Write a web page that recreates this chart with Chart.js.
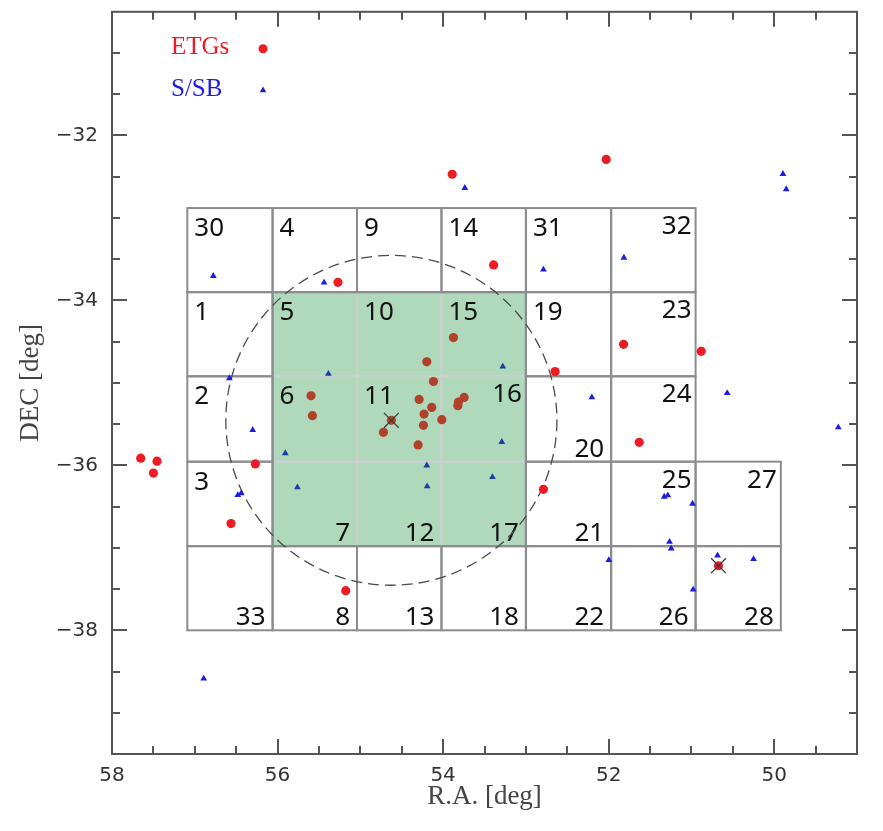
<!DOCTYPE html>
<html>
<head>
<meta charset="utf-8">
<script src="https://cdn.jsdelivr.net/npm/chart.js@4.4.1/dist/chart.umd.min.js"></script>
<style>
html,body{margin:0;padding:0;background:#fff;}
#wrap{width:883px;height:831px;position:relative;}
</style>
</head>
<body>
<div id="wrap"><canvas id="c"></canvas></div>
<script>
// ---------------- data ----------------
// Early-type galaxies (R.A., DEC in deg)
const etgRA  = [53.89, 52.03, 55.27, 53.39, 53.875, 54.197, 54.117, 55.595, 55.579, 54.29,
                54.137, 54.23, 54.016, 54.625, 54.238, 54.721, 54.302, 53.746, 53.815, 53.822,
                56.268, 56.562, 57.653, 57.456, 57.50, 55.176, 52.647, 51.82, 50.882, 51.631,
                52.788, 50.673];
const etgDEC = [-32.47, -32.29, -33.78, -33.57, -34.45, -34.745, -34.983, -35.156, -35.397, -35.20,
                -35.297, -35.378, -35.446, -35.454, -35.514, -35.599, -35.752, -35.176, -35.233, -35.277,
                -35.982, -36.706, -35.913, -35.949, -36.094, -37.519, -34.862, -34.532, -34.617, -35.72,
                -36.291, -37.217];
// Spirals / starbursts
const ssbRA  = [49.895, 49.855, 53.738, 56.776, 55.438, 52.788, 51.816, 55.386, 53.279, 56.582,
                56.30, 55.906, 53.291, 54.197, 54.193, 53.404, 55.76, 56.48, 56.44, 52.203,
                50.568, 51.329, 51.285, 50.987, 51.265, 51.245, 51.998, 50.979, 50.685, 50.25,
                56.892, 49.226];
const ssbDEC = [-32.467, -32.652, -32.636, -33.703, -33.784, -33.627, -33.482, -34.89, -34.802, -34.943,
                -35.571, -35.853, -35.716, -36.001, -36.255, -36.143, -36.267, -36.36, -36.34, -35.176,
                -35.124, -36.38, -36.363, -36.465, -36.928, -37.008, -37.149, -37.507, -37.093, -37.137,
                -38.586, -35.539];
// marked centres (crosses)
const centreRA  = [54.625, 50.673];
const centreDEC = [-35.454, -37.217];
// survey tiles
const tileIds = [30, 4, 9, 14, 31, 32,
                 1, 5, 10, 15, 19, 23,
                 2, 6, 11, 16, 20, 24,
                 3, 7, 12, 17, 21, 25, 27,
                 33, 8, 13, 18, 22, 26, 28];
const tileCol = [0,1,2,3,4,5, 0,1,2,3,4,5, 0,1,2,3,4,5, 0,1,2,3,4,5,6, 0,1,2,3,4,5,6];
const tileRow = [0,0,0,0,0,0, 1,1,1,1,1,1, 2,2,2,2,2,2, 3,3,3,3,3,3,3, 4,4,4,4,4,4,4];
const tileEdgesRA  = [57.09, 56.06, 55.04, 54.02, 53.00, 51.97, 50.95, 49.92];
const tileEdgesDEC = [-32.88, -33.90, -34.92, -35.955, -36.98, -38.00];
const highlightTiles = [5, 10, 15, 6, 11, 16, 7, 12, 17];
// dashed circle (centre, radius in deg)
const circleRA = 54.625, circleDEC = -35.454, circleRadius = 2.0;
// axes
const xTickValues = [58, 56, 54, 52, 50];
const yTickValues = [-32, -34, -36, -38];
const xRange = [49, 58];
const yRange = [-39.5, -30.5];
const legendLabels = ['ETGs', 'S/SB'];

// ---------------- styling (not data) ----------------
const RED = '#ee1b24', RED_IN = '#b2412b';
const BLUE = '#1c1ce8', BLUE_IN = '#1c3ca6';
const FIELD_GREEN = '#b0d8bb';
const TILE_GRAY = '#8a8c90', TILE_LIGHT = '#c9d2cb';
// label corner for each tile: tl = top-left, tr = top-right, br = bottom-right
const tileLabelCorner = ['tl','tl','tl','tl','tl','tr',
                         'tl','tl','tl','tl','tl','tr',
                         'tl','tl','tl','tr','br','tr',
                         'tl','br','br','br','br','tr','tr',
                         'br','br','br','br','br','br','br'];

function fieldBounds() {
  let raMin = Infinity, raMax = -Infinity, decMin = Infinity, decMax = -Infinity;
  highlightTiles.forEach(id => {
    const i = tileIds.indexOf(id);
    const c = tileCol[i], r = tileRow[i];
    const ras = [tileEdgesRA[c], tileEdgesRA[c + 1]];
    const decs = [tileEdgesDEC[r], tileEdgesDEC[r + 1]];
    raMin = Math.min(raMin, ...ras); raMax = Math.max(raMax, ...ras);
    decMin = Math.min(decMin, ...decs); decMax = Math.max(decMax, ...decs);
  });
  return {raMin, raMax, decMin, decMax};
}
const FB = fieldBounds();
function inField(p) {
  return p && p.x >= FB.raMin && p.x <= FB.raMax && p.y >= FB.decMin && p.y <= FB.decMax;
}

const etgPoints = etgRA.map((ra, i) => ({x: ra, y: etgDEC[i]}));
const ssbPoints = ssbRA.map((ra, i) => ({x: ra, y: ssbDEC[i]}));
const centrePoints = centreRA.map((ra, i) => ({x: ra, y: centreDEC[i]}));

const decorPlugin = {
  id: 'decor',
  beforeDatasetsDraw(chart) {
    const {ctx, chartArea: ca} = chart;
    const x = chart.scales.x, y = chart.scales.y;
    ctx.save();
    ctx.beginPath();
    ctx.rect(ca.left, ca.top, ca.right - ca.left, ca.bottom - ca.top);
    ctx.clip();
    const gx0 = x.getPixelForValue(FB.raMax), gx1 = x.getPixelForValue(FB.raMin);
    const gy0 = y.getPixelForValue(FB.decMax), gy1 = y.getPixelForValue(FB.decMin);
    ctx.fillStyle = FIELD_GREEN;
    ctx.fillRect(gx0, gy0, gx1 - gx0, gy1 - gy0);
    const tileRect = i => {
      const c = tileCol[i], r = tileRow[i];
      const x0 = x.getPixelForValue(tileEdgesRA[c]), x1 = x.getPixelForValue(tileEdgesRA[c + 1]);
      const y0 = y.getPixelForValue(tileEdgesDEC[r]), y1 = y.getPixelForValue(tileEdgesDEC[r + 1]);
      return {x0, x1, y0, y1};
    };
    ctx.lineWidth = 2;
    tileIds.forEach((id, i) => {
      if (!highlightTiles.includes(id)) return;
      const t = tileRect(i);
      ctx.strokeStyle = TILE_LIGHT;
      ctx.strokeRect(t.x0, t.y0, t.x1 - t.x0, t.y1 - t.y0);
    });
    tileIds.forEach((id, i) => {
      if (highlightTiles.includes(id)) return;
      const t = tileRect(i);
      ctx.strokeStyle = TILE_GRAY;
      ctx.strokeRect(t.x0, t.y0, t.x1 - t.x0, t.y1 - t.y0);
    });
    ctx.strokeStyle = TILE_GRAY;
    ctx.strokeRect(gx0, gy0, gx1 - gx0, gy1 - gy0);
    ctx.fillStyle = '#111';
    ctx.font = '26px "Noto Sans"';
    ctx.textBaseline = 'alphabetic';
    tileIds.forEach((id, i) => {
      const t = tileRect(i);
      const corner = tileLabelCorner[i];
      if (corner === 'tl') { ctx.textAlign = 'left';  ctx.fillText(String(id), t.x0 + 7, t.y0 + 28); }
      else if (corner === 'tr') { ctx.textAlign = 'right'; ctx.fillText(String(id), t.x1 - 4, t.y0 + 26); }
      else { ctx.textAlign = 'right'; ctx.fillText(String(id), t.x1 - 7, t.y1 - 5); }
    });
    const cx = x.getPixelForValue(circleRA), cy = y.getPixelForValue(circleDEC);
    const rx = Math.abs(x.getPixelForValue(circleRA + circleRadius) - cx);
    const ry = Math.abs(y.getPixelForValue(circleDEC + circleRadius) - cy);
    ctx.beginPath();
    ctx.setLineDash([11, 6]);
    ctx.lineWidth = 1.3;
    ctx.strokeStyle = '#4a4a4a';
    ctx.ellipse(cx, cy, rx, ry, 0, 0, Math.PI * 2);
    ctx.stroke();
    ctx.setLineDash([]);
    ctx.restore();
  },
  afterDraw(chart) {
    const {ctx, chartArea: ca} = chart;
    const x = chart.scales.x, y = chart.scales.y;
    ctx.save();
    ctx.strokeStyle = '#555';
    ctx.lineWidth = 2;
    const MAJ = 15, MIN = 8;
    for (let v = xRange[0]; v <= xRange[1] + 1e-9; v += 0.5) {
      const px = Math.round(x.getPixelForValue(v));
      if (px <= ca.left + 1 || px >= ca.right - 1) continue;
      const len = xTickValues.includes(v) ? MAJ : MIN;
      ctx.beginPath();
      ctx.moveTo(px, ca.bottom); ctx.lineTo(px, ca.bottom - len);
      ctx.moveTo(px, ca.top); ctx.lineTo(px, ca.top + len);
      ctx.stroke();
    }
    for (let v = yRange[0]; v <= yRange[1] + 1e-9; v += 0.5) {
      const py = Math.round(y.getPixelForValue(v));
      if (py <= ca.top + 1 || py >= ca.bottom - 1) continue;
      const len = yTickValues.includes(v) ? MAJ : MIN;
      ctx.beginPath();
      ctx.moveTo(ca.left, py); ctx.lineTo(ca.left + len, py);
      ctx.moveTo(ca.right, py); ctx.lineTo(ca.right - len, py);
      ctx.stroke();
    }
    ctx.strokeRect(ca.left, ca.top, ca.right - ca.left, ca.bottom - ca.top);
    ctx.font = '25px "Liberation Serif"';
    ctx.textAlign = 'left';
    ctx.textBaseline = 'alphabetic';
    ctx.fillStyle = RED;
    ctx.fillText(legendLabels[0], ca.left + 59, ca.top + 42);
    ctx.beginPath();
    ctx.arc(ca.left + 151, ca.top + 37, 4.5, 0, Math.PI * 2);
    ctx.fill();
    ctx.fillStyle = BLUE;
    ctx.fillText(legendLabels[1], ca.left + 59, ca.top + 84);
    const tx = ca.left + 151, ty = ca.top + 78.5, r = 3.8;
    ctx.beginPath();
    ctx.moveTo(tx, ty - r);
    ctx.lineTo(tx + r * 0.866, ty + r * 0.5);
    ctx.lineTo(tx - r * 0.866, ty + r * 0.5);
    ctx.closePath();
    ctx.fill();
    ctx.restore();
  }
};

const minus = v => (v < 0 ? '\u2212' : '') + Math.abs(v);

new Chart(document.getElementById('c'), {
  type: 'scatter',
  data: {
    datasets: [
      {
        label: 'centres',
        data: centrePoints,
        pointStyle: 'crossRot',
        pointRadius: 10.5,
        borderColor: ctx => inField(ctx.raw) ? '#2f4434' : '#3a3a3a',
        borderWidth: 1.3,
        backgroundColor: 'rgba(0,0,0,0)',
        order: 0
      },
      {
        label: legendLabels[0],
        data: etgPoints,
        pointStyle: 'circle',
        pointRadius: 4.6,
        borderWidth: 0,
        backgroundColor: ctx => inField(ctx.raw) ? RED_IN : RED,
        borderColor: ctx => inField(ctx.raw) ? RED_IN : RED,
        order: 1
      },
      {
        label: legendLabels[1],
        data: ssbPoints,
        pointStyle: 'triangle',
        pointRadius: 3.9,
        borderWidth: 0,
        backgroundColor: ctx => inField(ctx.raw) ? BLUE_IN : BLUE,
        borderColor: ctx => inField(ctx.raw) ? BLUE_IN : BLUE,
        order: 2
      }
    ]
  },
  options: {
    responsive: true,
    maintainAspectRatio: false,
    animation: false,
    events: [],
    layout: {padding: {left: 0, top: 9, right: 26, bottom: 0}},
    plugins: {legend: {display: false}, tooltip: {enabled: false}},
    scales: {
      x: {
        type: 'linear',
        reverse: true,
        min: xRange[0], max: xRange[1],
        grid: {display: false, drawTicks: false},
        border: {display: false},
        afterBuildTicks: s => { s.ticks = xTickValues.map(v => ({value: v})); },
        afterFit: s => { s.height = 77; s.paddingLeft = 0; s.paddingRight = 0; },
        ticks: {
          padding: 10,
          color: '#333',
          font: {family: '"DejaVu Sans"', size: 20},
          callback: v => minus(v)
        },
        title: {
          display: true,
          text: 'R.A. [deg]',
          color: '#444',
          font: {family: '"Liberation Serif"', size: 27},
          padding: {top: 0, bottom: 18}
        }
      },
      y: {
        type: 'linear',
        min: yRange[0], max: yRange[1],
        grid: {display: false, drawTicks: false},
        border: {display: false},
        afterBuildTicks: s => { s.ticks = yTickValues.map(v => ({value: v})); },
        afterFit: s => { s.width = 112; s.paddingTop = 0; s.paddingBottom = 0; },
        ticks: {
          padding: 14,
          color: '#333',
          font: {family: '"DejaVu Sans"', size: 20},
          callback: v => minus(v)
        },
        title: {
          display: true,
          text: 'DEC [deg]',
          color: '#444',
          font: {family: '"Liberation Serif"', size: 27},
          padding: {top: 15, bottom: 0}
        }
      }
    }
  },
  plugins: [decorPlugin]
});
</script>
</body>
</html>
